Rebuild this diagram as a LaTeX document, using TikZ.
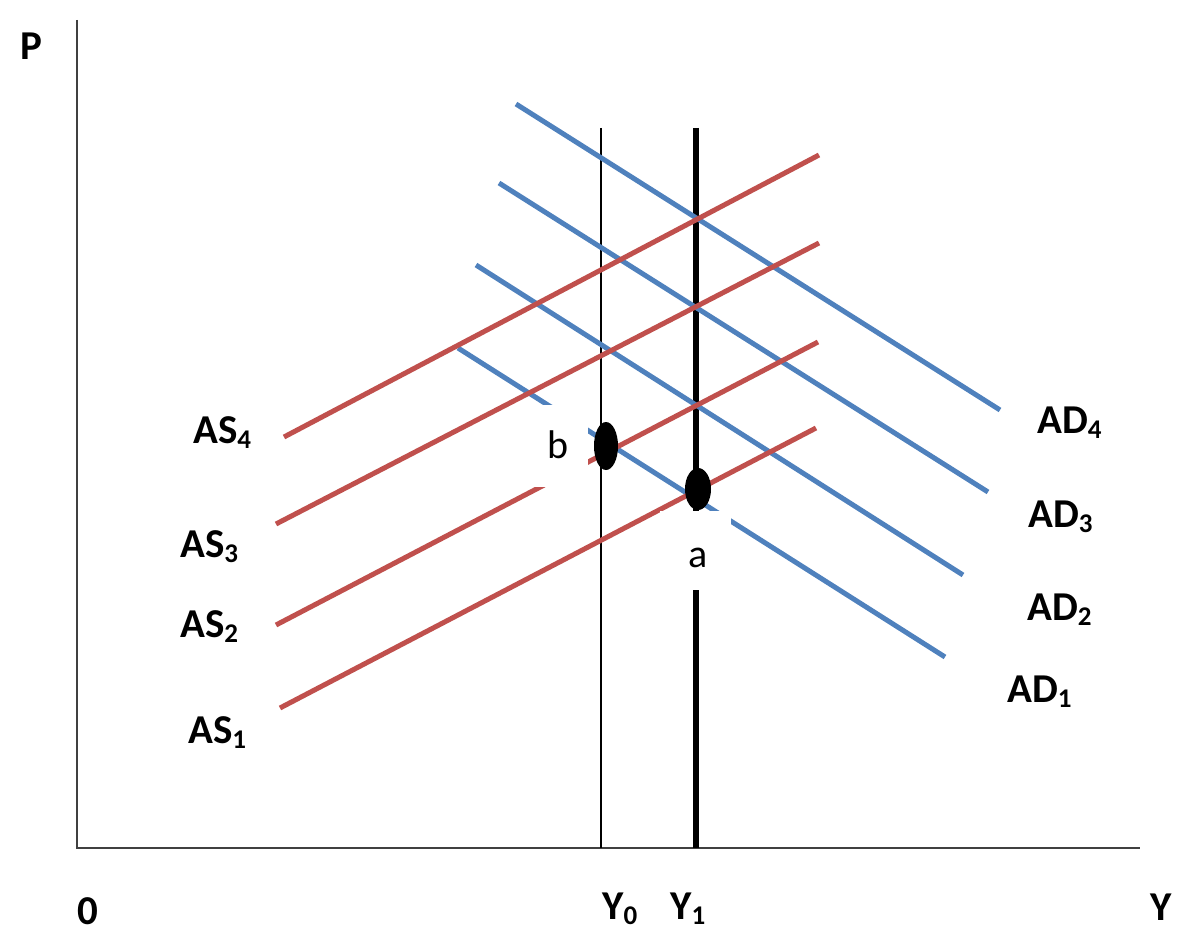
\documentclass[tikz,border=0pt]{standalone}
\usepackage{fontspec}
\setmainfont{Carlito}
\definecolor{adblue}{HTML}{4F81BD}
\definecolor{asred}{HTML}{C0504D}
\newcommand{\sbs}[1]{\raisebox{-5pt}{\fontsize{27}{27}\selectfont #1}}
\tikzset{
  lbl/.style={inner sep=0pt, anchor=base west, font=\fontsize{41}{41}\selectfont\bfseries},
  pt/.style={inner sep=0pt, anchor=base, font=\fontsize{40}{40}\selectfont},
  adline/.style={draw=adblue, line width=5pt},
  asline/.style={draw=asred, line width=5pt},
  axis/.style={draw=black!75, line width=2.5pt},
  cover/.style={fill=white, draw=none},
  dot/.style={fill=black}
}
\begin{document}
\begin{tikzpicture}[x=1pt,y=-1pt]
\useasboundingbox (0,0) rectangle (1178,933);
% axes
\coordinate (top) at (77,20);
\coordinate (org) at (77,848);
\coordinate (right) at (1140,848);
\draw[axis] (top) -- (org) -- (right);
% vertical lines
\coordinate (y0t) at (601,128); \coordinate (y0b) at (601,848);
\coordinate (y1t) at (696,128); \coordinate (y1b) at (696,848);
\draw[black, line width=2pt] (y0t) -- (y0b);
\draw[black, line width=6pt] (y1t) -- (y1b);
% AD curves
\coordinate (ad4s) at (516,104); \coordinate (ad4e) at (1000,410);
\coordinate (ad3s) at (499,183); \coordinate (ad3e) at (988,492);
\coordinate (ad2s) at (476,265); \coordinate (ad2e) at (963,575);
\coordinate (ad1s) at (458,348); \coordinate (ad1e) at (945,657);
\draw[adline] (ad4s) -- (ad4e);
\draw[adline] (ad3s) -- (ad3e);
\draw[adline] (ad2s) -- (ad2e);
\draw[adline] (ad1s) -- (ad1e);
% AS curves
\coordinate (as4s) at (284,437); \coordinate (as4e) at (819,155);
\coordinate (as3s) at (276,524); \coordinate (as3e) at (819,243);
\coordinate (as2s) at (276,625); \coordinate (as2e) at (818,342);
\coordinate (as1s) at (280,708); \coordinate (as1e) at (816,428);
\draw[asline] (as4s) -- (as4e);
\draw[asline] (as3s) -- (as3e);
\draw[asline] (as2s) -- (as2e);
\draw[asline] (as1s) -- (as1e);
% white label backgrounds
\fill[cover] (515,405) rectangle (588,487);
\fill[cover] (660,511) rectangle (731,590);
% equilibrium dots
\fill[dot] (606,446) ellipse [x radius=12, y radius=24];
\fill[dot] (698,489) ellipse [x radius=13, y radius=21];
% labels
\node[pt] (b) at (558,458) {b};
\node[pt] (a) at (698,567) {a};
\node[lbl] (P) at (20,60) {P};
\node[lbl] (O) at (77,924) {0};
\node[lbl] (Y) at (1150,920) {Y};
\node[lbl] (Y0) at (602,919) {Y\sbs{0}};
\node[lbl] (Y1) at (670,919) {Y\sbs{1}};
\node[lbl] (AS4) at (193,443) {AS\sbs{4}};
\node[lbl] (AS3) at (180,557) {AS\sbs{3}};
\node[lbl] (AS2) at (180,637) {AS\sbs{2}};
\node[lbl] (AS1) at (188,743) {AS\sbs{1}};
\node[lbl] (AD4) at (1037,433) {AD\sbs{4}};
\node[lbl] (AD3) at (1028,527) {AD\sbs{3}};
\node[lbl] (AD2) at (1027,620) {AD\sbs{2}};
\node[lbl] (AD1) at (1007,702) {AD\sbs{1}};
\end{tikzpicture}
\end{document}
